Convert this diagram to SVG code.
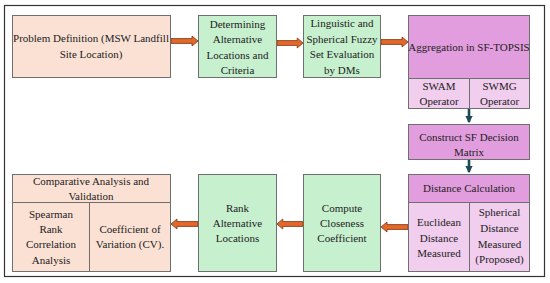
<svg xmlns="http://www.w3.org/2000/svg" width="550" height="283" viewBox="0 0 550 283">
<style>
text{font-family:"Liberation Serif","Times New Roman",serif;font-size:11px;fill:#222;text-anchor:middle;dominant-baseline:central}
.peach{fill:#fbe1d4;stroke:#6f6f6f;stroke-width:1}
.green{fill:#c7f0cf;stroke:#6f6f6f;stroke-width:1}
.mag{fill:#e29ddf;stroke:#6f6f6f;stroke-width:1}
.pink{fill:#f1cdee;stroke:#6f6f6f;stroke-width:1}
.div{stroke:#6f6f6f;stroke-width:1;fill:none}
.ba{fill:#e4682a;stroke:#7a3410;stroke-width:0.8}
.da{stroke:#1c4a57;stroke-width:2.6;fill:none}
</style>
<defs>
<path id="barrow" d="M0,-2.4 L21,-2.4 L21,-5 L27,0 L21,5 L21,2.4 L0,2.4 Z"/>
<marker id="dh" viewBox="0 0 6 6" refX="5" refY="3" markerWidth="3" markerHeight="3" orient="auto" markerUnits="strokeWidth">
<path d="M0,0 L6,3 L0,6 Z" fill="#1c4a57"/>
</marker>
</defs>
<rect x="4.5" y="5.5" width="540" height="271" fill="#ffffff" stroke="#333" stroke-width="1.2"/>

<g id="connectors">
<use href="#barrow" class="ba" transform="translate(171,41)"/>
<use href="#barrow" class="ba" transform="translate(277,43) scale(0.963,1)"/>
<use href="#barrow" class="ba" transform="translate(381,42)"/>
<use href="#barrow" class="ba" transform="translate(408,227) scale(-1,1)"/>
<use href="#barrow" class="ba" transform="translate(303,224) scale(-0.963,1)"/>
<use href="#barrow" class="ba" transform="translate(198,224) scale(-1,1)"/>
<line class="da" x1="469" y1="109" x2="469" y2="122" marker-end="url(#dh)"/>
<line class="da" x1="469" y1="159" x2="469" y2="172" marker-end="url(#dh)"/>
</g>

<g id="problem">
<rect class="peach" x="12.5" y="15.5" width="158" height="62"/>
<text x="91" y="38">Problem Definition (MSW Landfill</text>
<text x="91" y="54">Site Location)</text>
</g>

<g id="determining">
<rect class="green" x="198.5" y="15.5" width="78" height="62"/>
<text x="237.5" y="24">Determining</text>
<text x="237.5" y="39">Alternative</text>
<text x="237.5" y="55">Locations and</text>
<text x="237.5" y="70">Criteria</text>
</g>

<g id="linguistic">
<rect class="green" x="303.5" y="15.5" width="77" height="62"/>
<text x="342" y="23">Linguistic and</text>
<text x="342" y="39">Spherical Fuzzy</text>
<text x="342" y="54">Set Evaluation</text>
<text x="342" y="70">by DMs</text>
</g>

<g id="aggregation">
<rect class="mag" x="408.5" y="15.5" width="121" height="63"/>
<rect class="pink" x="408.5" y="78.5" width="121" height="30"/>
<line class="div" x1="469.5" y1="78.5" x2="469.5" y2="108.5"/>
<text x="469" y="47">Aggregation in SF-TOPSIS</text>
<text x="439" y="86">SWAM</text>
<text x="439" y="101">Operator</text>
<text x="499.5" y="86">SWMG</text>
<text x="499.5" y="101">Operator</text>
</g>

<g id="construct">
<rect class="mag" x="408.5" y="124.5" width="121" height="35"/>
<text x="469" y="137">Construct SF Decision</text>
<text x="469" y="152">Matrix</text>
</g>

<g id="distance">
<rect class="mag" x="408.5" y="174.5" width="121" height="28"/>
<rect class="pink" x="408.5" y="202.5" width="121" height="69"/>
<line class="div" x1="469.5" y1="202.5" x2="469.5" y2="271.5"/>
<text x="469" y="188">Distance Calculation</text>
<text x="439" y="222">Euclidean</text>
<text x="439" y="238">Distance</text>
<text x="439" y="253">Measured</text>
<text x="499.5" y="212">Spherical</text>
<text x="499.5" y="228">Distance</text>
<text x="499.5" y="244">Measured</text>
<text x="499.5" y="259">(Proposed)</text>
</g>

<g id="compute">
<rect class="green" x="303.5" y="174.5" width="77" height="97"/>
<text x="342" y="208">Compute</text>
<text x="342" y="223">Closeness</text>
<text x="342" y="238">Coefficient</text>
</g>

<g id="rank">
<rect class="green" x="198.5" y="174.5" width="78" height="97"/>
<text x="237.5" y="208">Rank</text>
<text x="237.5" y="223">Alternative</text>
<text x="237.5" y="238">Locations</text>
</g>

<g id="comparative">
<rect class="peach" x="12.5" y="174.5" width="158" height="97"/>
<line class="div" x1="12.5" y1="202.5" x2="170.5" y2="202.5"/>
<line class="div" x1="89.5" y1="202.5" x2="89.5" y2="271.5"/>
<text x="91" y="181">Comparative Analysis and</text>
<text x="91" y="196">Validation</text>
<text x="51" y="214">Spearman</text>
<text x="51" y="229">Rank</text>
<text x="51" y="244">Correlation</text>
<text x="51" y="260">Analysis</text>
<text x="130" y="229">Coefficient of</text>
<text x="130" y="244">Variation (CV).</text>
</g>
</svg>
